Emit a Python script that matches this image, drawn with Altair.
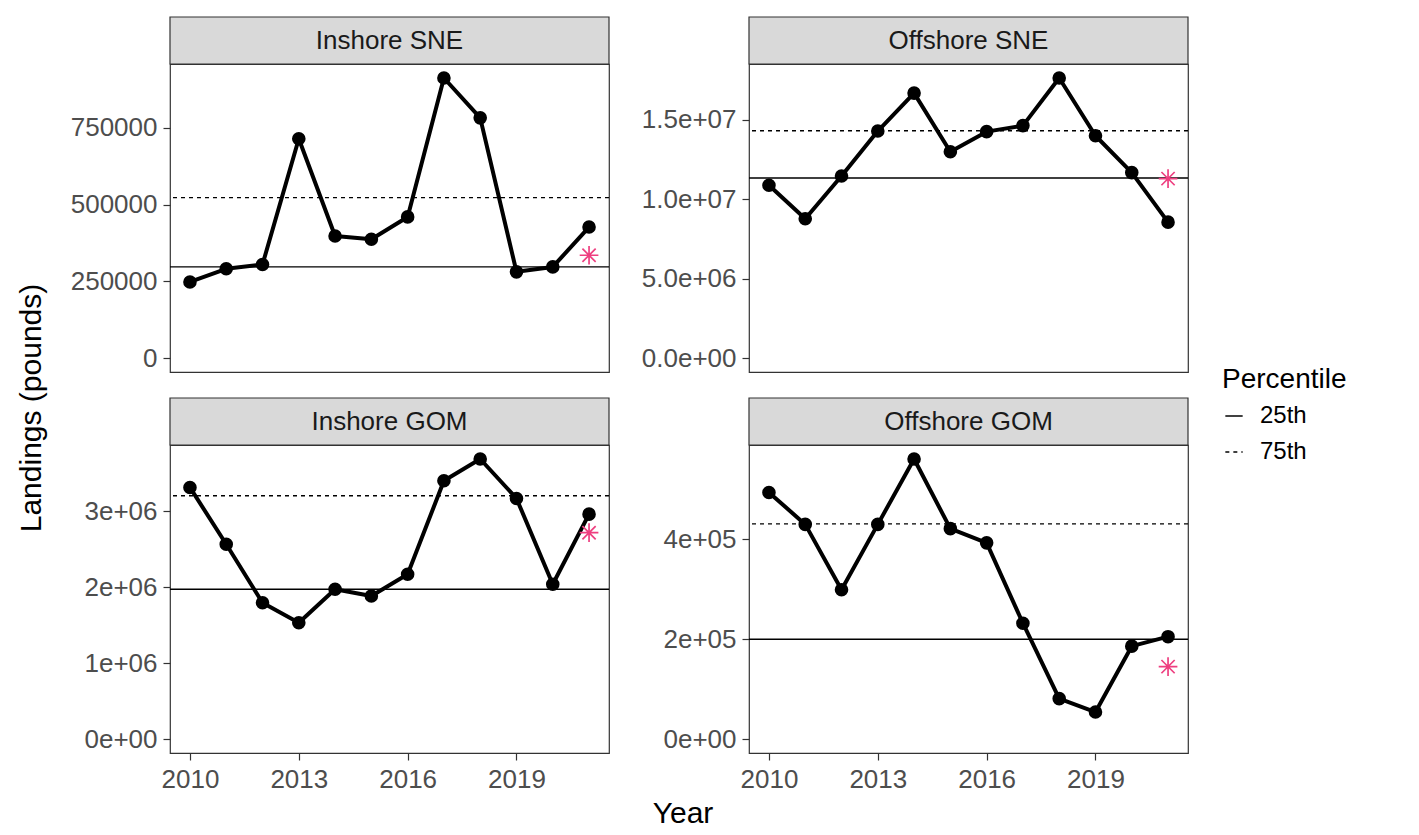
import altair as alt
import pandas as pd

years = [2010, 2011, 2012, 2013, 2014, 2015, 2016, 2017, 2018, 2019, 2020, 2021]
panels = ["Inshore SNE", "Offshore SNE", "Inshore GOM", "Offshore GOM"]

inshore_sne = [248000, 291000, 305000, 715000, 398000, 387000, 460000, 913000, 783000, 281000, 297000, 427000]
offshore_sne = [10.88e6, 8.77e6, 11.47e6, 14.30e6, 16.69e6, 12.99e6, 14.26e6, 14.64e6, 17.64e6, 14.0e6, 11.68e6, 8.56e6]
inshore_gom = [3.317e6, 2.568e6, 1.797e6, 1.533e6, 1.974e6, 1.885e6, 2.172e6, 3.405e6, 3.692e6, 3.172e6, 2.040e6, 2.965e6]
offshore_gom = [494000, 430000, 299000, 430000, 561000, 421500, 393000, 232000, 81000, 54000, 186000, 205000]
series = [inshore_sne, offshore_sne, inshore_gom, offshore_gom]

percentiles = ["25th", "75th"]
p25 = [297000, 11.34e6, 1.974e6, 200000]
p75 = [523000, 14.32e6, 3.207e6, 431000]

star_year = 2021
star_values = [335000, 11.3e6, 2.72e6, 145000]

y_ticks = [
    [0, 250000, 500000, 750000],
    [0, 5e6, 1e7, 1.5e7],
    [0, 1e6, 2e6, 3e6],
    [0, 2e5, 4e5],
]
y_formats = ["d", ".1e", ".0e", ".0e"]
x_ticks = [2010, 2013, 2016, 2019]
x_title = "Year"
y_title = "Landings (pounds)"

W, H, STRIP = 439, 308, 47
FONT = "Liberation Sans"
STAR = "M0,-1L0,1M-1,0L1,0M-0.7071,-0.7071L0.7071,0.7071M-0.7071,0.7071L0.7071,-0.7071"


def panel(i):
    vals = series[i]
    vmax = max(vals)
    ydom = [-0.05 * vmax, 1.05 * vmax]
    bottom = i >= 2
    if y_formats[i] == "d":
        yaxis = alt.Axis(values=y_ticks[i], format="d", title=None)
    else:
        yaxis = alt.Axis(values=y_ticks[i], title=None,
                         labelExpr="replace(format(datum.value, '%s'), 'e+', 'e+0')" % y_formats[i])
    xaxis = alt.Axis(values=x_ticks, format="d", title=None) if bottom else None
    xenc = alt.X("Year:Q", scale=alt.Scale(domain=[2009.45, 2021.55], nice=False, zero=False), axis=xaxis)
    yenc = alt.Y("Landings:Q", scale=alt.Scale(domain=ydom, nice=False, zero=False), axis=yaxis)

    df = pd.DataFrame({"Year": years, "Landings": vals})
    line = alt.Chart(df).mark_line(color="black", strokeWidth=4, strokeJoin="round").encode(x=xenc, y=yenc)
    pts = alt.Chart(df).mark_circle(color="black", size=185, opacity=1).encode(x=xenc, y=yenc)

    refdf = pd.DataFrame({"Percentile": percentiles, "Landings": [p25[i], p75[i]]})
    rules = alt.Chart(refdf).mark_rule(color="black", strokeWidth=1.4).encode(
        y=yenc,
        strokeDash=alt.StrokeDash(
            "Percentile:N",
            scale=alt.Scale(domain=percentiles, range=[[1, 0], [4, 4]]),
            legend=alt.Legend(orient="none", legendX=1052, legendY=302, title="Percentile",
                              symbolType="stroke", symbolStrokeWidth=1.4, symbolSize=300,
                              symbolStrokeColor="black"),
        ),
    )

    sdf = pd.DataFrame({"Year": [star_year], "Landings": [star_values[i]]})
    star = alt.Chart(sdf).mark_point(shape=STAR, filled=False, color="#EE3F80", strokeWidth=1.7,
                                     size=350, opacity=1).encode(x=xenc, y=yenc)

    stripdf = pd.DataFrame({"panel": [panels[i]]})
    strip_bg = alt.Chart(stripdf).mark_rect(fill="#D9D9D9", stroke="#333333", strokeWidth=1.2).encode(
        x=alt.value(0), x2=alt.value(W), y=alt.value(-STRIP), y2=alt.value(0))
    strip_txt = alt.Chart(stripdf).mark_text(fontSize=26, font=FONT, color="#1A1A1A").encode(
        x=alt.value(W / 2), y=alt.value(-STRIP / 2), text="panel:N")

    layers = [strip_bg, strip_txt, rules, line, pts, star]
    if i == 2:
        ylab = alt.Chart(pd.DataFrame({"t": [y_title]})).mark_text(
            fontSize=30, font=FONT, color="black", angle=270).encode(
            x=alt.value(-138), y=alt.value(-37), text="t:N")
        layers.append(ylab)
    if i == 3:
        xlab = alt.Chart(pd.DataFrame({"t": [x_title]})).mark_text(
            fontSize=30, font=FONT, color="black").encode(
            x=alt.value(-66), y=alt.value(369), text="t:N")
        layers.append(xlab)
    return alt.layer(*layers).properties(width=W, height=H)


chart = alt.concat(
    *[panel(i) for i in range(4)], columns=2,
    spacing={"row": 73, "column": 140}, bounds="flush",
).resolve_scale(x="independent", y="independent", strokeDash="shared").properties(
    padding={"left": 8, "top": 7, "right": 10, "bottom": 5}, background="white"
).configure_view(
    stroke="#333333", strokeWidth=1.2
).configure_axis(
    domain=False, ticks=True, tickColor="#333333", tickWidth=1.2, tickSize=7,
    labelFont=FONT, labelFontSize=26, labelColor="#4D4D4D", labelPadding=6, grid=False,
).configure_legend(
    titleFont=FONT, titleFontSize=28, titleFontWeight="normal", titleColor="black",
    labelFont=FONT, labelFontSize=24, labelColor="black", rowPadding=12, titlePadding=10,
    labelOffset=14,
)

chart.save("out.html", embed_options={"renderer": "svg", "actions": False})
